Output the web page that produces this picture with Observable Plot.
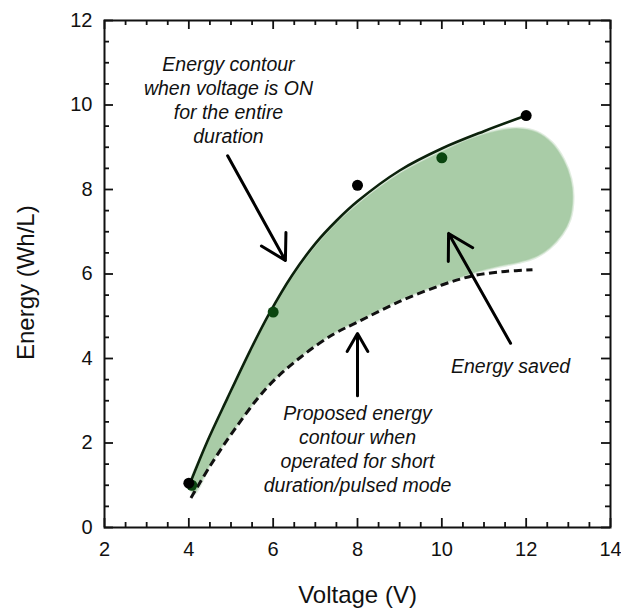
<!DOCTYPE html>
<html>
<head>
<meta charset="utf-8">
<script src="https://cdn.jsdelivr.net/npm/d3@7"></script>
<script src="https://cdn.jsdelivr.net/npm/@observablehq/plot@0.6"></script>
<style>
  html, body { margin: 0; padding: 0; background: #fff; }
  #chart { width: 621px; height: 608px; }
</style>
</head>
<body>
<div id="chart"></div>
<script>
// ---- tick values ----
const xTicks = [2, 4, 6, 8, 10, 12, 14];
const yTicks = [0, 2, 4, 6, 8, 10, 12];
const xMinor = [2.5, 3, 3.5, 4.5, 5, 5.5, 6.5, 7, 7.5, 8.5, 9, 9.5, 10.5, 11, 11.5, 12.5, 13, 13.5];
const yMinor = [0.5, 1, 1.5, 2.5, 3, 3.5, 4.5, 5, 5.5, 6.5, 7, 7.5, 8.5, 9, 9.5, 10.5, 11, 11.5];

// ---- measured points ----
const blackPoints = [[4, 1.05], [8, 8.1], [12, 9.75]];
const greenPoints = [[4.07, 1.0], [6, 5.1], [10, 8.75]];

// ---- contour "voltage ON for entire duration" (solid) ----
const solidContour = [
  [4.05, 1.1], [4.43, 2.02], [4.91, 3.05], [5.46, 4.2], [5.9, 5.05],
  [6.45, 5.97], [7, 6.72], [7.5, 7.26], [8, 7.72], [9, 8.45], [10, 8.97],
  [11, 9.38], [12, 9.75]
];

// ---- proposed contour "short duration / pulsed mode" (dashed) ----
const dashedContour = [
  [4.05, 0.7], [4.5, 1.45], [5.07, 2.3], [5.86, 3.32], [6.65, 4.03],
  [7.44, 4.58], [8, 4.86], [9, 5.35], [10, 5.74], [10.75, 5.96],
  [11.5, 6.06], [12.15, 6.1]
];

// ---- "energy saved" shaded region outline ----
const savedRegion = [
  [4.05, 1.02], [4.43, 1.95], [4.91, 2.98], [5.46, 4.13], [5.9, 4.98],
  [6.45, 5.9], [7, 6.64], [7.5, 7.19], [8, 7.64], [9, 8.37], [10, 8.89],
  [10.7, 9.2], [11.3, 9.38], [11.8, 9.44], [12.25, 9.35], [12.6, 9.1],
  [12.88, 8.7], [13.05, 8.25], [13.1, 7.8], [13.03, 7.3], [12.85, 6.95],
  [12.55, 6.62], [12.2, 6.4], [11.8, 6.28], [11.3, 6.18], [10.8, 6.05],
  [10.2, 5.85], [9.5, 5.6], [9, 5.4], [8, 4.9], [7.44, 4.62], [6.65, 4.07],
  [5.86, 3.36], [5.07, 2.34], [4.5, 1.5], [4.12, 0.82]
];

// ---- annotation arrows: [x1, y1, x2, y2] ----
const arrows = [
  [4.92, 8.80, 6.29, 6.32],
  [11.63, 4.36, 10.16, 6.96],
  [8.0, 3.12, 8.0, 4.59]
];

// ---- annotation texts ----
const noteText = [
  "Energy contour\nwhen voltage is ON\nfor the entire\nduration",
  "Energy saved",
  "Proposed energy\ncontour when\noperated for short\nduration/pulsed mode"
];
const noteX = [4.94, 11.63, 8.0];
const noteY = [10.13, 3.83, 1.87];

const xLabel = "Voltage (V)";
const yLabel = "Energy (Wh/L)";

// ---- layout ----
const W = 621, H = 608;
const mTop = 20, mBottom = 81, mLeft = 104, mRight = 11;
const plotH = H - mTop - mBottom;
const plotW = W - mLeft - mRight;
const major = 9, minor = 5;

const pt = (a) => a.map(([x, y]) => ({x, y}));
const notes = noteText.map((t, i) => ({text: t, x: noteX[i], y: noteY[i]}));
const arrowData = arrows.map(([x1, y1, x2, y2]) => ({x1, y1, x2, y2}));

const fill = "#a9cca7";
const tickStyle = {stroke: "#111", strokeWidth: 1.8};

const chart = Plot.plot({
  width: W,
  height: H,
  marginTop: mTop,
  marginBottom: mBottom,
  marginLeft: mLeft,
  marginRight: mRight,
  style: {fontFamily: "'Liberation Sans', Arial, sans-serif", fontSize: "20px", background: "#fff", color: "#111"},
  x: {domain: [2, 14], ticks: xTicks, tickSize: 0, tickPadding: 14, label: null},
  y: {domain: [0, 12], ticks: yTicks, tickSize: 0, tickPadding: 12, label: null},
  marks: [
    // shaded region with a soft outer edge
    Plot.line(pt(savedRegion), {x: "x", y: "y", fill: "none", stroke: fill, strokeOpacity: 0.35, strokeWidth: 4, curve: "catmull-rom-closed"}),
    Plot.line(pt(savedRegion), {x: "x", y: "y", fill: fill, stroke: fill, strokeOpacity: 0.6, strokeWidth: 1.5, curve: "catmull-rom-closed"}),
    Plot.line(pt(dashedContour), {x: "x", y: "y", stroke: "#111", strokeWidth: 3, strokeDasharray: "8,4.5", strokeLinecap: "butt", curve: "catmull-rom"}),
    Plot.line(pt(solidContour), {x: "x", y: "y", stroke: "#0c220c", strokeWidth: 2.6, curve: "catmull-rom"}),
    Plot.dot(pt(greenPoints), {x: "x", y: "y", r: 5.5, fill: "#0b4510", stroke: "none"}),
    Plot.dot(pt(blackPoints), {x: "x", y: "y", r: 5.5, fill: "#000", stroke: "none"}),
    Plot.arrow(arrowData, {x1: "x1", y1: "y1", x2: "x2", y2: "y2", stroke: "#000", strokeWidth: 3, headLength: 14}),
    Plot.text(notes, {x: "x", y: "y", text: "text", fontSize: 19.5, fontStyle: "italic", lineHeight: 1.22, fill: "#111"}),
    // inward ticks on all four sides
    Plot.tickX(xTicks, {x: d => d, insetTop: plotH - major, ...tickStyle}),
    Plot.tickX(xMinor, {x: d => d, insetTop: plotH - minor, ...tickStyle}),
    Plot.tickX(xTicks, {x: d => d, insetBottom: plotH - major, ...tickStyle}),
    Plot.tickX(xMinor, {x: d => d, insetBottom: plotH - minor, ...tickStyle}),
    Plot.tickY(yTicks, {y: d => d, insetRight: plotW - major, ...tickStyle}),
    Plot.tickY(yMinor, {y: d => d, insetRight: plotW - minor, ...tickStyle}),
    Plot.tickY(yTicks, {y: d => d, insetLeft: plotW - major, ...tickStyle}),
    Plot.tickY(yMinor, {y: d => d, insetLeft: plotW - minor, ...tickStyle}),
    Plot.frame({stroke: "#111", strokeWidth: 2}),
    Plot.text([xLabel], {frameAnchor: "bottom", lineAnchor: "middle", textAnchor: "middle", dy: 68, fontSize: 24, fill: "#111"}),
    Plot.text([yLabel], {frameAnchor: "left", textAnchor: "start", lineAnchor: "middle", rotate: -90, dx: -78, dy: 86, fontSize: 24, fill: "#111"})
  ]
});

document.getElementById("chart").appendChild(chart);
</script>
</body>
</html>
